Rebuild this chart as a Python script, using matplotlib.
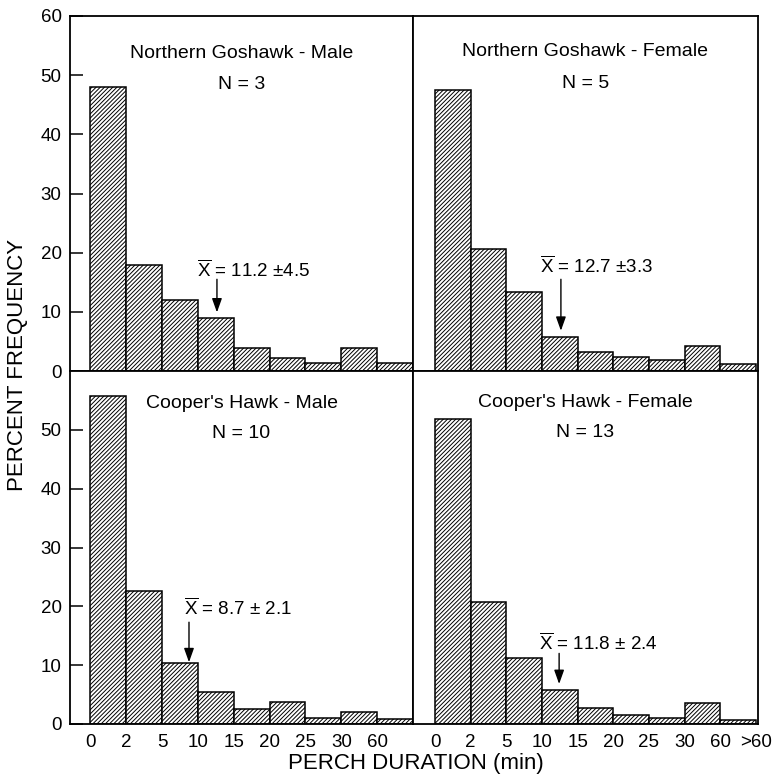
import numpy as np
import matplotlib
matplotlib.use("Agg")
import matplotlib.pyplot as plt

plt.rcParams["font.family"] = ["Liberation Sans", "DejaVu Sans"]
plt.rcParams["mathtext.fontset"] = "custom"
plt.rcParams["mathtext.rm"] = "Liberation Sans"
plt.rcParams["mathtext.it"] = "Liberation Sans"
plt.rcParams["hatch.linewidth"] = 0.7

# bin edges of perch duration (min)
bin_labels = ["0", "2", "5", "10", "15", "20", "25", "30", "60", ">60"]

# percent frequency per bin (0-2, 2-5, 5-10, 10-15, 15-20, 20-25, 25-30, 30-60, >60)
goshawk_male = [48.0, 18.0, 12.0, 9.0, 3.9, 2.2, 1.4, 3.9, 1.4]
goshawk_female = [47.5, 20.7, 13.4, 5.8, 3.2, 2.4, 1.9, 4.2, 1.2]
cooper_male = [55.8, 22.6, 10.3, 5.4, 2.5, 3.7, 1.1, 2.0, 0.8]
cooper_female = [51.9, 20.8, 11.3, 5.7, 2.7, 1.5, 1.0, 3.5, 0.7]

titles = ["Northern Goshawk - Male", "Northern Goshawk - Female",
          "Cooper's Hawk - Male", "Cooper's Hawk - Female"]
sample_sizes = ["N = 3", "N = 5", "N = 10", "N = 13"]
means = ["11.2 ±4.5", "12.7 ±3.3", "8.7 ± 2.1", "11.8 ± 2.4"]

fig = plt.figure(figsize=(7.73, 7.78), dpi=100)

# panel rects in figure fraction
x0, xm, x1 = 70 / 773, 413 / 773, 758 / 773
y_top0, y_mid, y_bot0 = 16 / 778, 371 / 778, 724 / 778
rects = [
    [x0, 1 - y_mid, xm - x0, y_mid - y_top0],
    [xm, 1 - y_mid, x1 - xm, y_mid - y_top0],
    [x0, 1 - y_bot0, xm - x0, y_bot0 - y_mid],
    [xm, 1 - y_bot0, x1 - xm, y_bot0 - y_mid],
]
data = [goshawk_male, goshawk_female, cooper_male, cooper_female]

# annotation layout: text left x, text y, arrow x, arrow tail y, arrow tip y
ann = [
    (2.97, 17.1, 3.53, 15.5, 9.9),
    (2.94, 17.7, 3.53, 15.5, 6.8),
    (2.62, 19.7, 2.75, 17.3, 10.5),
    (2.92, 13.7, 3.48, 12.0, 6.8),
]
title_y = [(0.895, 0.807), (0.899, 0.809), (0.909, 0.823), (0.912, 0.825)]

for i, (rect, vals) in enumerate(zip(rects, data)):
    ax = fig.add_axes(rect)
    x = np.arange(len(vals))
    ax.bar(x, vals, width=1.0, align="edge", facecolor="white",
           edgecolor="black", linewidth=1.1, hatch="////////")
    ax.set_ylim(0, 60)
    left_col = i % 2 == 0
    if left_col:
        ax.set_xlim(-0.57, 9.0)
        ax.set_xticks(np.arange(9))
        ax.set_xticklabels(bin_labels[:9])
        yt = np.arange(0, 61, 10) if i == 0 else np.arange(0, 51, 10)
        ax.set_yticks(yt)
        ax.tick_params(axis="y", direction="in", length=9.5, width=1.1,
                       labelsize=13.5, pad=6)
    else:
        ax.set_xlim(-0.62, 9.06)
        ax.set_xticks(np.arange(10))
        ax.set_xticklabels(bin_labels)
        ax.set_yticks([])
    if i < 2:
        ax.set_xticks([])
    else:
        ax.tick_params(axis="x", length=0, labelsize=13.5, pad=7)
    for s in ax.spines.values():
        s.set_linewidth(1.3)

    ty, ny = title_y[i]
    ax.text(0.5, ty, titles[i], transform=ax.transAxes, ha="center",
            va="center", fontsize=14)
    ax.text(0.5, ny, sample_sizes[i], transform=ax.transAxes, ha="center",
            va="center", fontsize=14)

    tx, tyy, axx, tail, tip = ann[i]
    ax.text(tx, tyy, r"$\overline{\mathrm{X}}$ = " + means[i], ha="left",
            va="center", fontsize=13.5)
    ax.annotate("", xy=(axx, tip), xytext=(axx, tail),
                arrowprops=dict(arrowstyle="-|>,head_width=0.25,head_length=0.7",
                                color="black", lw=1.0,
                                mutation_scale=12, shrinkA=0, shrinkB=0))

fig.text(0.023, 0.531, "PERCENT FREQUENCY", rotation=90, ha="center",
         va="center", fontsize=16)
fig.text(416 / 773, 1 - 763.5 / 778, "PERCH DURATION (min)", ha="center",
         va="center", fontsize=16)

fig.savefig("out.png", dpi=100)
